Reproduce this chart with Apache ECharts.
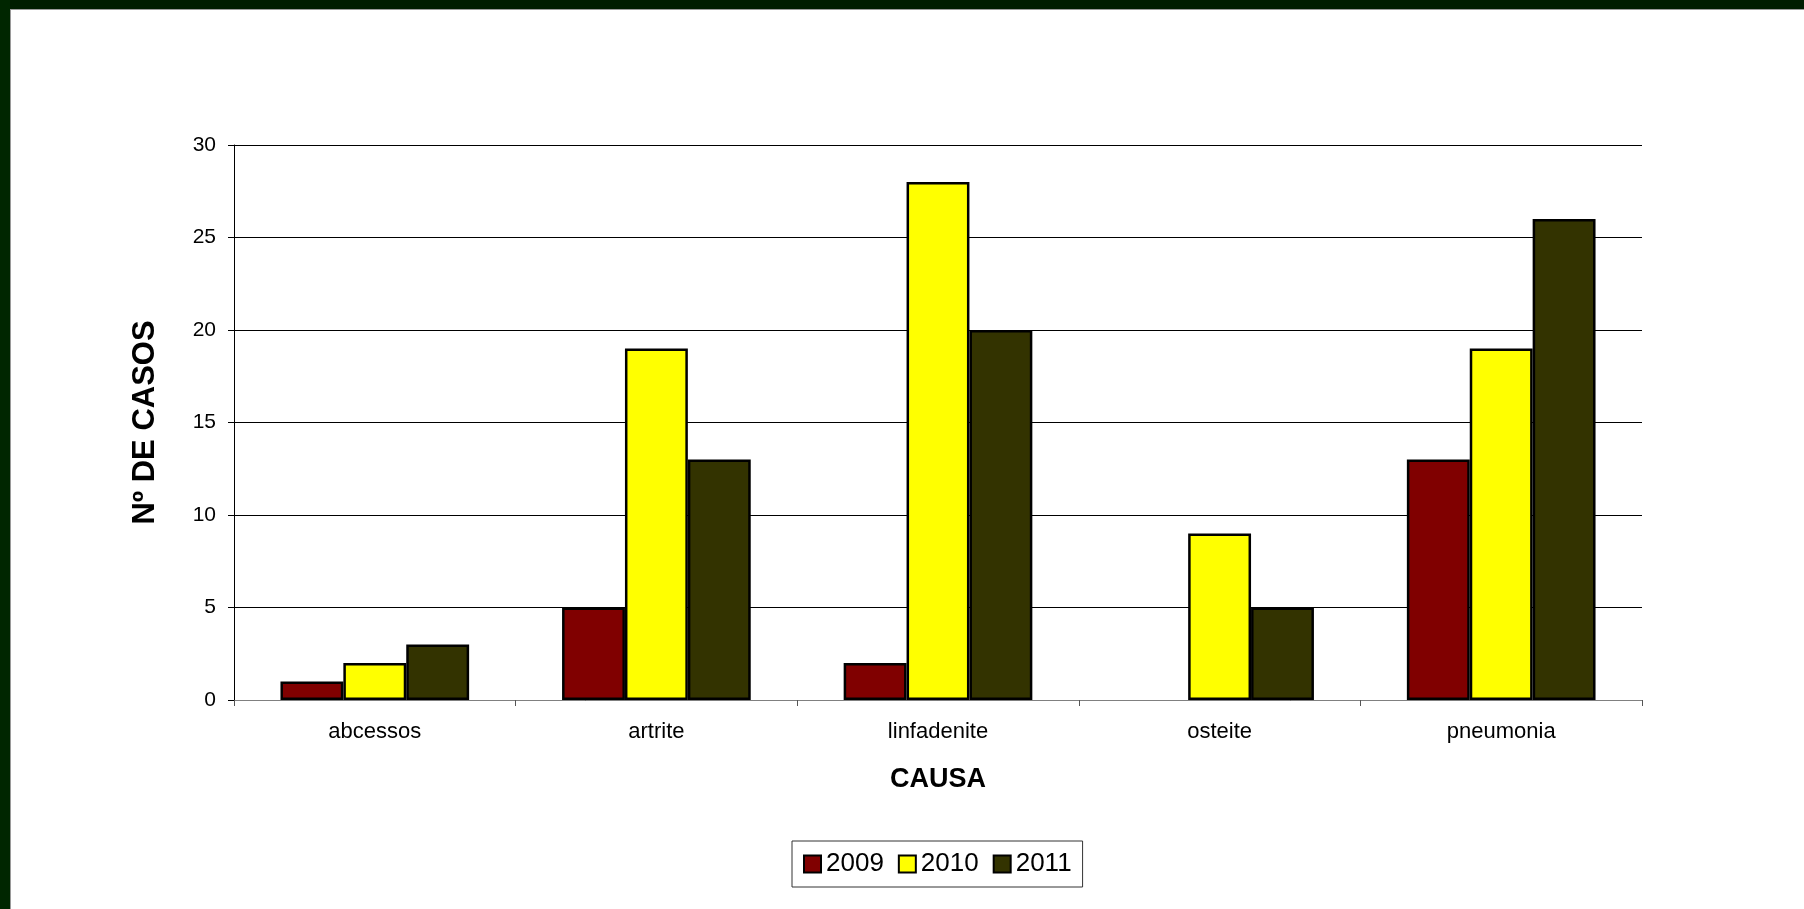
<!DOCTYPE html>
<html>
<head>
<meta charset="utf-8">
<script src="https://cdn.jsdelivr.net/npm/echarts@6/dist/echarts.min.js"></script>
<style>
html,body{margin:0;padding:0;background:#fff;}
#chart{width:1804px;height:909px;}
</style>
</head>
<body>
<div id="chart"></div>
<script>
const categories = ['abcessos', 'artrite', 'linfadenite', 'osteite', 'pneumonia'];
const years = ['2009', '2010', '2011'];
const values2009 = [1, 5, 2, 0, 13];
const values2010 = [2, 19, 28, 9, 19];
const values2011 = [3, 13, 20, 5, 26];
const yTicks = [0, 5, 10, 15, 20, 25, 30];
const colors = ['#800000', '#FFFF00', '#333300'];

const FONT = 'Liberation Sans, Arial, sans-serif';
const chart = echarts.init(document.getElementById('chart'));

function mk(name, vals, color) {
  return {
    name: name,
    type: 'bar',
    barGap: '0%',
    barCategoryGap: '33%',
    itemStyle: { color: color, borderColor: '#000', borderWidth: 2.5 },
    data: vals.map(v => v === 0 ? { value: v, itemStyle: { borderWidth: 0 } } : v),
    emphasis: { disabled: true }
  };
}

chart.setOption({
  animation: false,
  backgroundColor: '#fff',
  textStyle: { fontFamily: FONT },
  graphic: [
    { type: 'rect', shape: { x: 0, y: 0, width: 1804, height: 9 }, style: { fill: '#001d00' }, z: 100 },
    { type: 'rect', shape: { x: 0, y: 0, width: 10, height: 909 }, style: { fill: '#002600' }, z: 100 },
    { type: 'rect', shape: { x: 10, y: 9, width: 1794, height: 1 }, style: { fill: '#9a9a9a' }, z: 100 },
    { type: 'rect', shape: { x: 10, y: 9, width: 1, height: 900 }, style: { fill: '#9a9a9a' }, z: 100 }
  ],
  grid: { left: 234, top: 145, width: 1408, height: 555, containLabel: false },
  legend: {
    left: 792, top: 841,
    data: years,
    icon: 'rect',
    itemWidth: 17, itemHeight: 17, itemGap: 14,
    padding: [10, 11],
    borderColor: '#333', borderWidth: 1,
    textStyle: { fontSize: 26, color: '#000', fontFamily: FONT },
    itemStyle: { borderColor: '#000', borderWidth: 2 }
  },
  xAxis: {
    type: 'category',
    data: categories,
    name: 'CAUSA',
    nameLocation: 'middle',
    nameGap: 66,
    nameTextStyle: { fontSize: 27, fontWeight: 'bold', color: '#000', fontFamily: FONT },
    axisLine: { lineStyle: { color: '#808080', width: 1 } },
    axisTick: { show: true, alignWithLabel: false, length: 6, lineStyle: { color: '#555' } },
    axisLabel: { fontSize: 22, color: '#000', margin: 21, fontFamily: FONT }
  },
  yAxis: {
    type: 'value',
    min: 0, max: 30, interval: 5,
    name: 'Nº DE CASOS',
    nameLocation: 'middle',
    nameGap: 73,
    nameRotate: 90,
    nameTextStyle: { fontSize: 31, fontWeight: 'bold', color: '#000', fontFamily: FONT },
    axisLine: { show: true, lineStyle: { color: '#000', width: 1 } },
    axisTick: { show: true, length: 6, lineStyle: { color: '#000' } },
    axisLabel: { fontSize: 21, color: '#000', margin: 18, fontFamily: FONT,
      formatter: v => yTicks.includes(v) ? String(v) : '' },
    splitLine: { show: true, lineStyle: { color: '#000', width: 1 } }
  },
  series: [
    mk(years[0], values2009, colors[0]),
    mk(years[1], values2010, colors[1]),
    mk(years[2], values2011, colors[2])
  ]
});
</script>
</body>
</html>
